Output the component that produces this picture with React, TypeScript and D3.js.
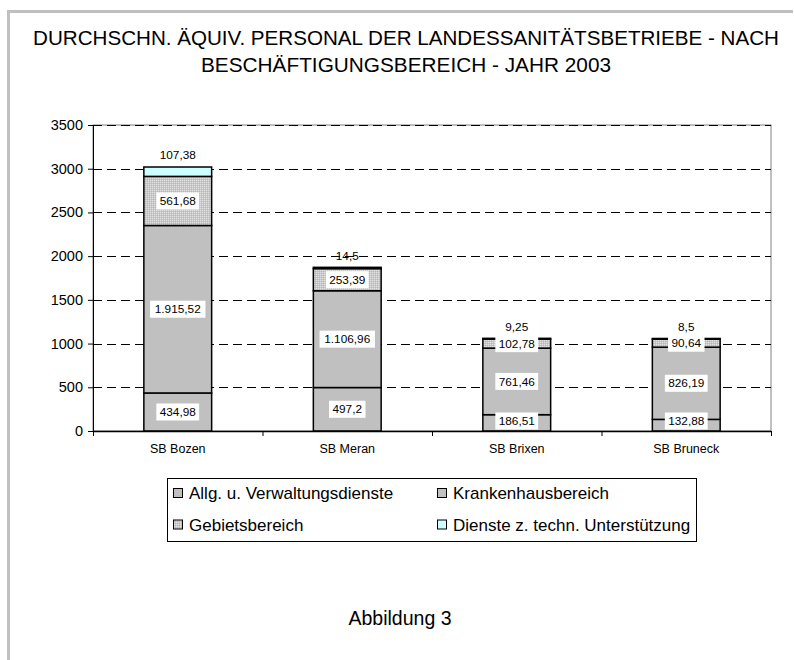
import React from 'react';
import * as d3 from 'd3';

// Werte aus der Abbildung
const categories = ['SB Bozen', 'SB Meran', 'SB Brixen', 'SB Bruneck'];
const seriesNames = [
  'Allg. u. Verwaltungsdienste',
  'Krankenhausbereich',
  'Gebietsbereich',
  'Dienste z. techn. Unterstützung',
];
const allgValues = [434.98, 497.2, 186.51, 132.88];
const krankenhausValues = [1915.52, 1106.96, 761.46, 826.19];
const gebietValues = [561.68, 253.39, 102.78, 90.64];
const diensteValues = [107.38, 14.5, 9.25, 8.5];
const yTicks = [0, 500, 1000, 1500, 2000, 2500, 3000, 3500];

const W = 794;
const H = 660;
const margin = { left: 93, right: 771, top: 125, bottom: 431 };
const FONT = "'Liberation Sans', Arial, sans-serif";
const fills = ['#c0c0c0', '#c0c0c0', 'url(#dots)', '#ccffff'];

// deutsches Zahlenformat: 1.915,52
const fmtNum = (v: number) => {
  const [i, dec] = String(v).split('.');
  const int = i.replace(/\B(?=(\d{3})+(?!\d))/g, '.');
  return dec ? `${int},${dec}` : int;
};

export default function App() {
  const x = d3.scaleBand<string>().domain(categories).range([margin.left, margin.right])
    .paddingInner(0.6).paddingOuter(0.3);
  const y = d3.scaleLinear().domain([0, 3500]).range([margin.bottom, margin.top]);

  const rows = categories.map((c, i) => ({
    cat: c,
    s0: allgValues[i], s1: krankenhausValues[i], s2: gebietValues[i], s3: diensteValues[i],
  }));
  const stack = d3.stack<any>().keys(['s0', 's1', 's2', 's3'])(rows);

  const step = x.step();
  const boundaries = d3.range(categories.length + 1).map(i => margin.left + i * step);

  return (
    <div style={{ position: 'absolute', left: 0, top: 0 }}>
      <svg width={W} height={H} style={{ display: 'block', background: '#fff' }}>
        <defs>
          <pattern id="dots" width="2" height="2" patternUnits="userSpaceOnUse">
            <rect width="2" height="2" fill="#c8c8c8" />
            <rect width="1" height="1" fill="#e2e2e2" />
            <rect x="1" y="1" width="1" height="1" fill="#b8b8b8" />
          </pattern>
        </defs>

        {/* Rahmen */}
        <path d={`M8.5,${H} V11.5 H793`} fill="none" stroke="#c0c0c0" strokeWidth={3} />

        {/* Titel */}
        <text x={406} y={45} textAnchor="middle" fontSize={19.5} textLength={746} lengthAdjust="spacingAndGlyphs"
          fontFamily={FONT} fill="#000">
          DURCHSCHN. ÄQUIV. PERSONAL DER LANDESSANITÄTSBETRIEBE - NACH
        </text>
        <text x={406} y={72} textAnchor="middle" fontSize={19.5} textLength={410} lengthAdjust="spacingAndGlyphs"
          fontFamily={FONT} fill="#000">
          BESCHÄFTIGUNGSBEREICH - JAHR 2003
        </text>

        {/* Plotfläche */}
        <rect x={margin.left} y={margin.top} width={margin.right - margin.left} height={margin.bottom - margin.top}
          fill="none" stroke="#808080" strokeWidth={1} />
        {yTicks.filter(t => t > 0).map(t => (
          <line key={t} x1={margin.left} x2={margin.right} y1={y(t) + 0.5} y2={y(t) + 0.5}
            stroke="#000" strokeWidth={1} strokeDasharray="9,5" style={{ shapeRendering: 'crispEdges' }} />
        ))}

        {/* Balken */}
        {stack.map((layer, si) => (
          <g key={si}>
            {layer.map((d, i) => (
              <rect key={i} x={x(categories[i])} y={y(d[1])} width={x.bandwidth()}
                height={Math.max(0, y(d[0]) - y(d[1]))} fill={fills[si]} stroke="#000" strokeWidth={1.5} />
            ))}
          </g>
        ))}

        {/* Datenbeschriftungen */}
        {stack.map((layer, si) => layer.map((d, i) => {
          const v = (rows[i] as any)[`s${si}`] as number;
          const label = fmtNum(v);
          const cx = (x(categories[i]) as number) + x.bandwidth() / 2;
          const top = si === 3;
          let cy = top ? y(d[1]) - 12 : (y(d[0]) + y(d[1])) / 2;
          if (!top) cy = Math.min(cy, 421);
          const bw = label.length * 6.3 + 5;
          return (
            <g key={`${si}-${i}`}>
              {!top && <rect x={cx - bw / 2} y={cy - 8.5} width={bw} height={17} fill="#fff" />}
              <text x={cx} y={cy + 4.2} textAnchor="middle" fontSize={11.8} fontFamily={FONT} fill="#000">{label}</text>
            </g>
          );
        }))}

        {/* Achsen */}
        <line x1={margin.left + 0.5} x2={margin.left + 0.5} y1={margin.top} y2={margin.bottom} stroke="#000" />
        <line x1={margin.left} x2={margin.right} y1={margin.bottom + 0.5} y2={margin.bottom + 0.5} stroke="#000" strokeWidth={1.3} />
        {yTicks.map(t => (
          <g key={t}>
            <line x1={margin.left - 5} x2={margin.left} y1={y(t) + 0.5} y2={y(t) + 0.5} stroke="#000" />
            <text x={83} y={y(t) + 5} textAnchor="end" fontSize={14.5} fontFamily={FONT} fill="#000">{t}</text>
          </g>
        ))}
        {boundaries.map((bx, i) => (
          <line key={i} x1={bx + 0.5} x2={bx + 0.5} y1={margin.bottom} y2={margin.bottom + 5} stroke="#000" />
        ))}
        {categories.map(c => (
          <text key={c} x={(x(c) as number) + x.bandwidth() / 2} y={452.5} textAnchor="middle" fontSize={12.5}
            fontFamily={FONT} fill="#000">{c}</text>
        ))}

        {/* Legende */}
        <rect x={167.5} y={478.5} width={529} height={63} fill="#fff" stroke="#000" />
        {seriesNames.map((n, i) => {
          const lx = i % 2 === 0 ? 173 : 437;
          const cy = i < 2 ? 493 : 524.5;
          return (
            <g key={n}>
              <rect x={lx + 0.5} y={cy - 4.5} width={9} height={9} fill={fills[i]} stroke="#000" />
              <text x={lx + 16} y={cy + 6} fontSize={17} fontFamily={FONT} fill="#000">{n}</text>
            </g>
          );
        })}

        <text x={400} y={625} textAnchor="middle" fontSize={19.5} fontFamily={FONT} fill="#000">Abbildung 3</text>
      </svg>
    </div>
  );
}
